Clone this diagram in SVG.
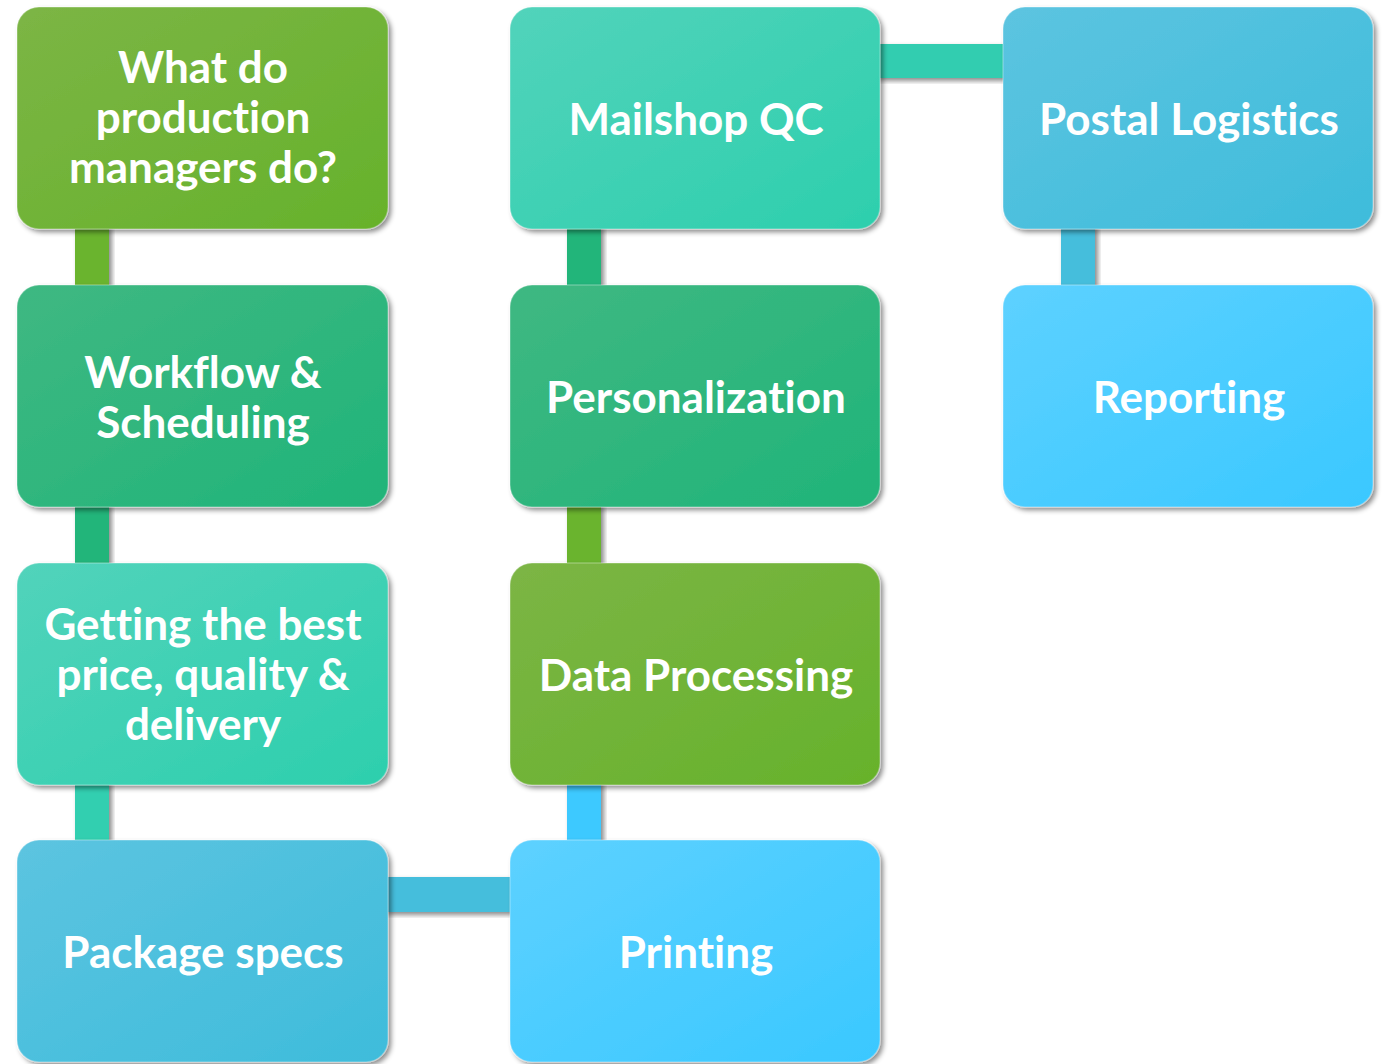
<svg xmlns="http://www.w3.org/2000/svg" width="1386" height="1064" viewBox="0 0 1386 1064">
<defs>
<linearGradient id="gGreen" x1="0" y1="0" x2="1" y2="1"><stop offset="0" stop-color="#7cb545"/><stop offset="1" stop-color="#66b22b"/></linearGradient>
<linearGradient id="gTealG" x1="0" y1="0" x2="1" y2="1"><stop offset="0" stop-color="#3fb882"/><stop offset="1" stop-color="#20b479"/></linearGradient>
<linearGradient id="gTeal" x1="0" y1="0" x2="1" y2="1"><stop offset="0" stop-color="#52d3bb"/><stop offset="1" stop-color="#2dcfad"/></linearGradient>
<linearGradient id="gCyan" x1="0" y1="0" x2="1" y2="1"><stop offset="0" stop-color="#5cc4e0"/><stop offset="1" stop-color="#3ebcdb"/></linearGradient>
<linearGradient id="gSky" x1="0" y1="0" x2="1" y2="1"><stop offset="0" stop-color="#5dd1ff"/><stop offset="1" stop-color="#3ac8ff"/></linearGradient>
<filter id="sh" x="-10%" y="-10%" width="125%" height="125%"><feDropShadow dx="3" dy="3" stdDeviation="2.5" flood-color="#000" flood-opacity="0.45"/></filter>
</defs>
<style>
.box{filter:url(#sh);stroke:#ffffff;stroke-opacity:0.25;stroke-width:1.5}
.bar{filter:url(#sh)}
text{font-family:Lato,"Liberation Sans",sans-serif;font-weight:bold;font-size:44px;fill:#ffffff;text-anchor:middle;font-variant-ligatures:none}
</style>
<g id="connectors">
<rect class="bar" x="75" y="225" width="34" height="64" fill="#6ab42f"/>
<rect class="bar" x="75" y="503" width="34" height="64" fill="#22b57a"/>
<rect class="bar" x="75" y="781" width="34" height="63" fill="#33cfb0"/>
<rect class="bar" x="384" y="877" width="130" height="35" fill="#44bedc"/>
<rect class="bar" x="567" y="781" width="34" height="63" fill="#3cc9ff"/>
<rect class="bar" x="567" y="503" width="34" height="64" fill="#6ab42f"/>
<rect class="bar" x="567" y="225" width="34" height="64" fill="#22b57a"/>
<rect class="bar" x="876" y="44" width="131" height="34" fill="#33cdb0"/>
<rect class="bar" x="1061" y="225" width="34" height="64" fill="#44bedc"/>
</g>
<g id="n1"><rect class="box" x="17" y="7" width="371" height="222" rx="22" fill="url(#gGreen)"/>
<text x="203" y="83">What do</text><text x="203" y="133">production</text><text x="203" y="183">managers do?</text></g>
<g id="n2"><rect class="box" x="17" y="285" width="371" height="222" rx="22" fill="url(#gTealG)"/>
<text x="203" y="388">Workflow &amp;</text><text x="203" y="438">Scheduling</text></g>
<g id="n3"><rect class="box" x="17" y="563" width="371" height="222" rx="22" fill="url(#gTeal)"/>
<text x="203" y="640">Getting the best</text><text x="203" y="690">price, quality &amp;</text><text x="203" y="740">delivery</text></g>
<g id="n4"><rect class="box" x="17" y="840" width="371" height="222" rx="22" fill="url(#gCyan)"/>
<text x="203" y="968">Package specs</text></g>
<g id="n5"><rect class="box" x="510" y="840" width="370" height="222" rx="22" fill="url(#gSky)"/>
<text x="696" y="968">Printing</text></g>
<g id="n6"><rect class="box" x="510" y="563" width="370" height="222" rx="22" fill="url(#gGreen)"/>
<text x="696" y="691">Data Processing</text></g>
<g id="n7"><rect class="box" x="510" y="285" width="370" height="222" rx="22" fill="url(#gTealG)"/>
<text x="696" y="413">Personalization</text></g>
<g id="n8"><rect class="box" x="510" y="7" width="370" height="222" rx="22" fill="url(#gTeal)"/>
<text x="696" y="135">Mailshop QC</text></g>
<g id="n9"><rect class="box" x="1003" y="7" width="370" height="222" rx="22" fill="url(#gCyan)"/>
<text x="1189" y="135">Postal Logistics</text></g>
<g id="n10"><rect class="box" x="1003" y="285" width="370" height="222" rx="22" fill="url(#gSky)"/>
<text x="1189" y="413">Reporting</text></g>
</svg>
